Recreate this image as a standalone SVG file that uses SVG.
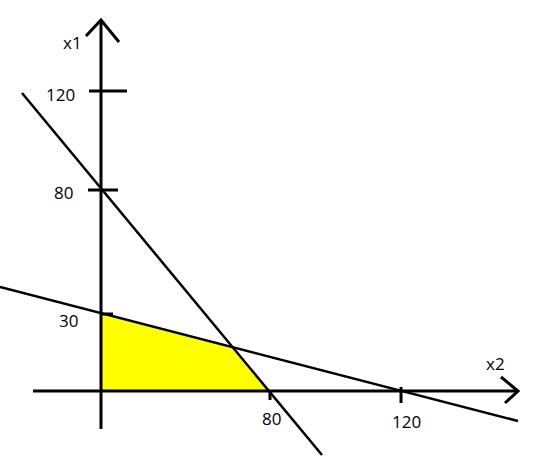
<svg xmlns="http://www.w3.org/2000/svg" width="558" height="456" viewBox="0 0 558 456">
<style>
.ax{stroke:#000;stroke-width:3;fill:none}
.ln{stroke:#000;stroke-width:2.5;fill:none}
text{font-family:"Open Sans","DejaVu Sans",sans-serif;font-size:17px;fill:#000}
</style>
<rect width="558" height="456" fill="#fff"/>
<g id="region"><polygon points="101,313 232.6,347.3 269,391 101,391" fill="#ffff00"/></g>
<g id="connectors">
<line class="ln" x1="22" y1="93" x2="322" y2="455"/>
<line class="ln" x1="0" y1="287" x2="518" y2="421"/>
</g>
<g id="x1-axis">
<line class="ax" x1="101" y1="20" x2="101" y2="429"/>
<polyline class="ax" points="86,36 101,20 119,42"/>
<line class="ax" x1="89" y1="91" x2="127" y2="91"/>
<line class="ax" x1="88" y1="190" x2="118" y2="190"/>
<line class="ax" x1="101" y1="314" x2="113" y2="314"/>
<text x="63" y="49">x1</text>
<text x="46" y="101">120</text>
<text x="54" y="199">80</text>
<text x="59" y="327">30</text>
</g>
<g id="x2-axis">
<line class="ax" x1="33" y1="391" x2="518" y2="391"/>
<polyline class="ax" points="501,377 518,391 505,403"/>
<line class="ax" x1="270" y1="391" x2="270" y2="400"/>
<line class="ax" x1="401" y1="387" x2="401" y2="403"/>
<text x="486" y="370">x2</text>
<text x="262" y="425">80</text>
<text x="392" y="428">120</text>
</g>
</svg>
